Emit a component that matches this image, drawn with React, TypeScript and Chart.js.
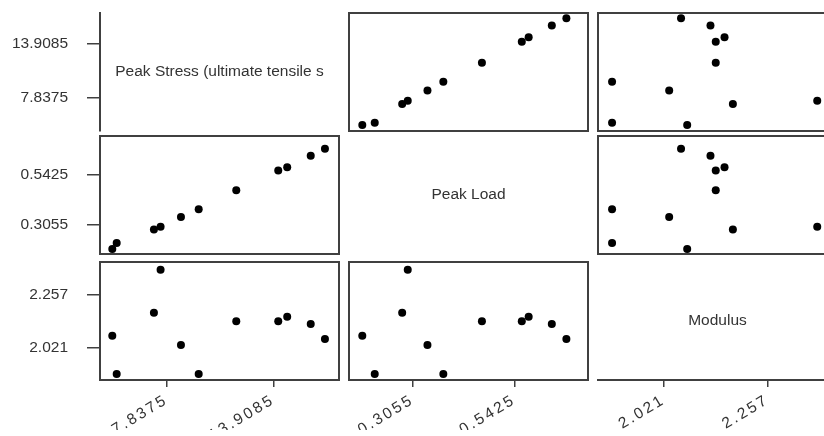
import React, { useEffect, useRef } from "react";
import { Chart, registerables } from "chart.js";

Chart.register(...registerables);

// ---- data ----
const variableNames = ["Peak Stress (ultimate tensile s", "Peak Load", "Modulus"];
const peakStress = [4.74, 4.99, 7.11, 7.49, 8.65, 9.66, 11.8, 14.19, 14.7, 16.04, 16.85];
const peakLoad = [0.188, 0.217, 0.281, 0.294, 0.34, 0.377, 0.467, 0.56, 0.576, 0.63, 0.664];
const modulus = [2.074, 1.903, 2.178, 2.37, 2.033, 1.903, 2.139, 2.139, 2.159, 2.127, 2.06];

const stressTicks = [7.8375, 13.9085];
const loadTicks = [0.3055, 0.5425];
const modulusTicks = [2.021, 2.257];
const stressTickLabels = ["7.8375", "13.9085"];
const loadTickLabels = ["0.3055", "0.5425"];
const modulusTickLabels = ["2.021", "2.257"];

// axis limits when the variable is on the horizontal / vertical axis
const stressRangeX = [4.04, 17.65];
const stressRangeY = [4.06, 17.45];
const loadRangeX = [0.157, 0.7144];
const loadRangeY = [0.1648, 0.724];
const modulusRangeX = [1.871, 2.415];
const modulusRangeY = [1.876, 2.405];

const VARS = [
  { name: variableNames[0], values: peakStress, ticks: stressTicks, labels: stressTickLabels, rx: stressRangeX, ry: stressRangeY },
  { name: variableNames[1], values: peakLoad, ticks: loadTicks, labels: loadTickLabels, rx: loadRangeX, ry: loadRangeY },
  { name: variableNames[2], values: modulus, ticks: modulusTicks, labels: modulusTickLabels, rx: modulusRangeX, ry: modulusRangeY },
];

// ---- layout ----
const CANVAS_W = 860;
const CANVAS_H = 436;
const COL_LEFT = [100, 349, 598];
const COL_W = 239;
const ROW_TOP = [13, 136, 262];
const ROW_H = 118;
const Y_AXIS_W = 100;
const X_AXIS_H = 50;
const INK = "#404040";
const TEXT = "#333333";
const FONT_FAMILY = "'Liberation Sans', Arial, Helvetica, sans-serif";
const FONT_SIZE = 15.5;

const CELLS: [number, number][] = [];
for (let r = 0; r < 3; r++) for (let c = 0; c < 3; c++) CELLS.push([r, c]);

function clearScalePadding(s: any) {
  s.paddingTop = 0;
  s.paddingBottom = 0;
  s.paddingLeft = 0;
  s.paddingRight = 0;
}

function buildConfig(r: number, c: number): any {
  const xv = VARS[c];
  const yv = VARS[r];
  const diag = r === c;
  const showY = c === 0;
  const showX = r === 2;
  const left = COL_LEFT[c];
  const top = ROW_TOP[r];
  const padding = {
    left: showY ? left - Y_AXIS_W : left,
    top: top,
    right: CANVAS_W - left - COL_W,
    bottom: showX ? CANVAS_H - top - ROW_H - X_AXIS_H : CANVAS_H - top - ROW_H,
  };
  const points = diag ? [] : xv.values.map((x, i) => ({ x, y: yv.values[i] }));

  const xScale: any = {
    type: "linear",
    position: "bottom",
    min: xv.rx[0],
    max: xv.rx[1],
    display: showX,
    afterBuildTicks: (s: any) => {
      s.ticks = xv.ticks.map((v) => ({ value: v }));
    },
    afterFit: (s: any) => {
      clearScalePadding(s);
      if (showX) s.height = X_AXIS_H;
    },
    ticks: {
      z: 1,
      autoSkip: false,
      minRotation: 31,
      maxRotation: 31,
      padding: 4,
      color: TEXT,
      font: { size: FONT_SIZE, family: FONT_FAMILY },
      callback: (_v: any, i: number) => xv.labels[i],
    },
    grid: { display: true, drawOnChartArea: false, drawTicks: true, tickLength: 7, color: INK, lineWidth: 1.5 },
    border: { display: diag, color: INK, width: 2 },
  };

  const yScale: any = {
    type: "linear",
    position: "left",
    min: yv.ry[0],
    max: yv.ry[1],
    display: showY,
    afterBuildTicks: (s: any) => {
      s.ticks = yv.ticks.map((v) => ({ value: v }));
    },
    afterFit: (s: any) => {
      clearScalePadding(s);
      if (showY) s.width = Y_AXIS_W;
    },
    ticks: {
      autoSkip: false,
      padding: 19,
      color: TEXT,
      font: { size: FONT_SIZE, family: FONT_FAMILY },
      callback: (_v: any, i: number) => yv.labels[i],
    },
    grid: { display: true, drawOnChartArea: false, drawTicks: true, tickLength: 13, color: INK, lineWidth: 1.5 },
    border: { display: diag, color: INK, width: 2 },
  };

  const cellPlugin = {
    id: "cellPlugin",
    beforeDatasetsDraw(chart: any) {
      if (diag) return;
      const { ctx, chartArea: a } = chart;
      ctx.save();
      ctx.strokeStyle = INK;
      ctx.lineWidth = 2;
      ctx.strokeRect(a.left, a.top, a.right - a.left, a.bottom - a.top);
      ctx.restore();
    },
    afterDatasetsDraw(chart: any) {
      if (showX) chart.ctx.letterSpacing = "2.5px";
    },
    afterDraw(chart: any) {
      const { ctx, chartArea: a } = chart;
      ctx.letterSpacing = "0px";
      if (!diag) return;
      ctx.save();
      ctx.fillStyle = TEXT;
      ctx.font = `${FONT_SIZE}px ${FONT_FAMILY}`;
      ctx.textAlign = "center";
      ctx.textBaseline = "middle";
      ctx.fillText(xv.name, (a.left + a.right) / 2, (a.top + a.bottom) / 2);
      ctx.restore();
    },
  };

  return {
    type: "scatter",
    data: {
      datasets: diag
        ? []
        : [
            {
              data: points,
              pointRadius: 4,
              pointHoverRadius: 4,
              pointBackgroundColor: "#000000",
              pointBorderColor: "#000000",
              pointBorderWidth: 0,
              showLine: false,
            },
          ],
    },
    options: {
      responsive: false,
      animation: false,
      devicePixelRatio: 1,
      events: [],
      layout: { padding },
      plugins: { legend: { display: false }, title: { display: false }, tooltip: { enabled: false } },
      scales: { x: xScale, y: yScale },
    },
    plugins: [cellPlugin],
  };
}

export default function App() {
  const refs = useRef<(HTMLCanvasElement | null)[]>([]);
  useEffect(() => {
    const charts: Chart[] = [];
    CELLS.forEach(([r, c], k) => {
      const cv = refs.current[k];
      if (cv) charts.push(new Chart(cv, buildConfig(r, c)));
    });
    return () => charts.forEach((ch) => ch.destroy());
  }, []);
  return (
    <div
      style={{
        position: "fixed",
        left: 0,
        top: 0,
        width: 824,
        height: 436,
        overflow: "hidden",
        background: "#ffffff",
      }}
    >
      {CELLS.map(([r, c], k) => (
        <canvas
          key={`${r}-${c}`}
          ref={(el) => {
            refs.current[k] = el;
          }}
          width={CANVAS_W}
          height={CANVAS_H}
          style={{ position: "absolute", left: 0, top: 0 }}
        />
      ))}
    </div>
  );
}
